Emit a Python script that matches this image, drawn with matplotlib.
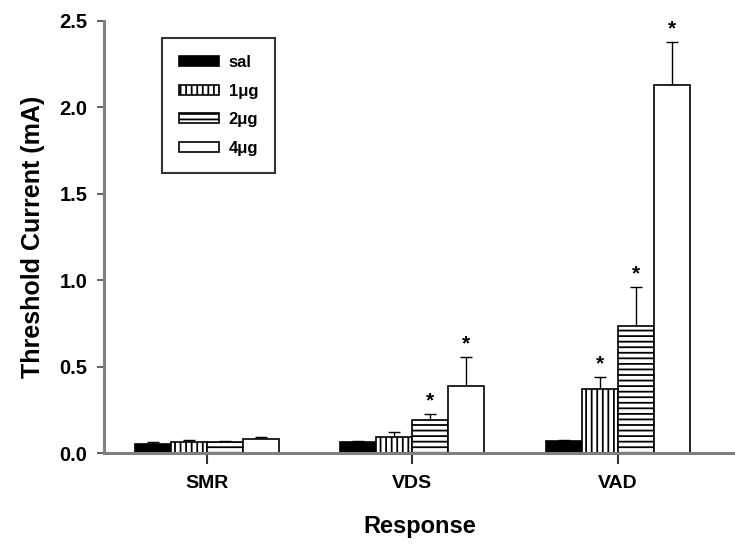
import matplotlib as mpl
import matplotlib.pyplot as plt
import numpy as np

plt.rcParams['font.family'] = ['Liberation Sans', 'DejaVu Sans']
plt.rcParams['font.weight'] = 'bold'
plt.rcParams['hatch.linewidth'] = 1.3

responses = ['SMR', 'VDS', 'VAD']
doses = ['sal', '1\u03bcg', '2\u03bcg', '4\u03bcg']

# mean threshold current (mA) per dose, one list per response
means = {
	'sal': [0.055, 0.062, 0.068],
	'1\u03bcg': [0.065, 0.095, 0.37],
	'2\u03bcg': [0.062, 0.19, 0.735],
	'4\u03bcg': [0.08, 0.39, 2.13],
}
# upper error (SEM)
errs = {
	'sal': [0.012, 0.008, 0.01],
	'1\u03bcg': [0.012, 0.025, 0.07],
	'2\u03bcg': [0.01, 0.035, 0.225],
	'4\u03bcg': [0.015, 0.165, 0.25],
}
# significance marks
signif = {
	'sal': [False, False, False],
	'1\u03bcg': [False, False, True],
	'2\u03bcg': [False, True, True],
	'4\u03bcg': [False, True, True],
}

styles = {
	'sal': dict(color='black', hatch=None),
	'1\u03bcg': dict(color='white', hatch='|||'),
	'2\u03bcg': dict(color='white', hatch='---'),
	'4\u03bcg': dict(color='white', hatch=None),
}

fig = plt.figure(figsize=(7.35, 5.52), dpi=100)
ax = fig.add_axes([0.1415, 0.179, 0.8585, 0.783])

x = np.arange(1, len(responses) + 1)
w = 0.175
handles = []
for i, d in enumerate(doses):
	pos = x + (i - 1.5) * w
	b = ax.bar(pos, means[d], width=w, color=styles[d]['color'], edgecolor='black',
		linewidth=1.2, hatch=styles[d]['hatch'], label=d, zorder=2)
	handles.append(b)
	ax.errorbar(pos, means[d], yerr=[np.zeros(len(pos)), errs[d]], fmt='none',
		ecolor='black', elinewidth=1.0, capsize=4.5, capthick=1.0, zorder=1)
	for p, m, e, s in zip(pos, means[d], errs[d], signif[d]):
		if s:
			ax.text(p, m + e + 0.02, '*', ha='center', va='bottom', fontsize=15, fontweight='bold')

ax.set_xlim(0.499, 3.57)
ax.set_ylim(0, 2.5)
ax.set_xticks(x)
ax.set_xticklabels(responses, fontsize=14, fontweight='bold')
ax.set_yticks(np.arange(0, 2.51, 0.5))
ax.set_yticklabels(['%.1f' % v for v in np.arange(0, 2.51, 0.5)], fontsize=14.5, fontweight='bold')
ax.tick_params(axis='y', direction='out', length=5, width=1.5, color='#666666', pad=7)
ax.tick_params(axis='x', direction='out', length=8, width=1.5, color='#333333', pad=8)
for s in ['top', 'right']:
	ax.spines[s].set_visible(False)
for s in ['left', 'bottom']:
	ax.spines[s].set_linewidth(2.2)
	ax.spines[s].set_color('#808080')

ax.set_xlabel('Response', fontsize=17, fontweight='bold', labelpad=16)
ax.set_ylabel('Threshold Current (mA)', fontsize=18, fontweight='bold', labelpad=10)

leg = ax.legend(handles=handles, loc='upper left', bbox_to_anchor=(0.092, 0.96),
	frameon=True, fancybox=False, edgecolor='black', fontsize=12,
	handlelength=2.4, handleheight=0.55, labelspacing=0.82, borderpad=1.0,
	handletextpad=0.6, borderaxespad=0)
leg.get_frame().set_linewidth(1.5)
for t in leg.get_texts():
	t.set_fontweight('bold')

plt.savefig('out.png', dpi=100)
